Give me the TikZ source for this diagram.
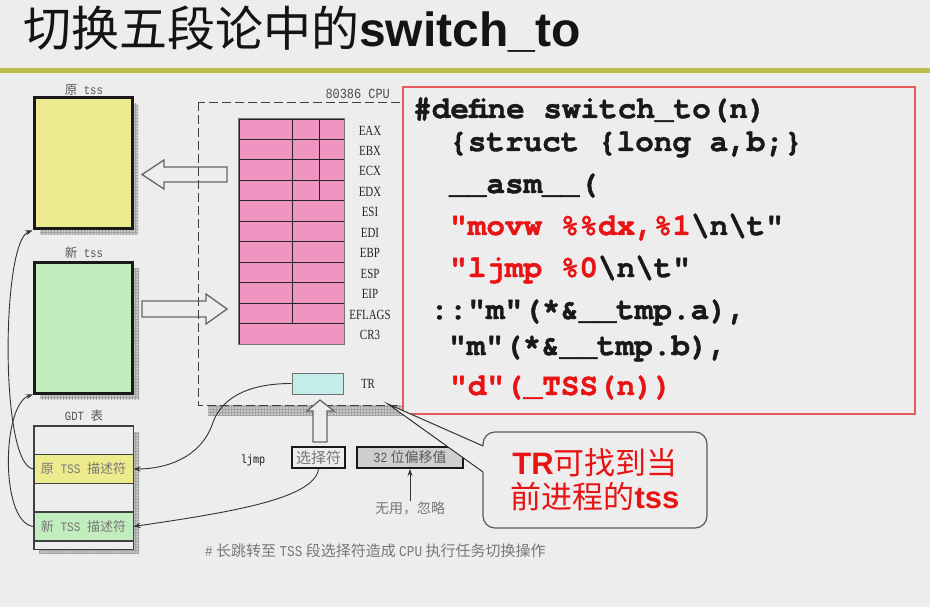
\documentclass[tikz,border=0pt]{standalone}
\usepackage{fontspec}
\setmainfont{Liberation Sans}
\setmonofont{Liberation Mono}
\newfontfamily\cjk{Noto Sans CJK SC}
\newfontfamily\regfont[FakeStretch=0.78]{Liberation Serif}
\newfontfamily\labmono[FakeStretch=0.85]{Liberation Mono}
\newfontfamily\codefont[FakeBold=1.3]{texgyrecursor-bold.otf}
\usetikzlibrary{arrows.meta,patterns}
\definecolor{bg}{HTML}{EDEDED}
\definecolor{rulecol}{HTML}{BEBE4C}
\definecolor{tssold}{HTML}{EEEB8F}
\definecolor{tssnew}{HTML}{C2EDBF}
\definecolor{regpink}{HTML}{EE96C1}
\definecolor{trcyan}{HTML}{C3EDEB}
\definecolor{offgray}{HTML}{CFCFCF}
\definecolor{codered}{HTML}{E81414}
\definecolor{boxred}{HTML}{E85A5A}
\definecolor{labgray}{HTML}{555555}
\definecolor{softgray}{HTML}{777777}
\newcommand{\fs}[1]{\fontsize{#1}{#1}\selectfont}
\begin{document}
\begin{tikzpicture}[x=1pt,y=-1pt,
  dropshade/.style={fill=black!22, postaction={pattern=grid, pattern color=black!36}},
  tssbox/.style={draw=black!90, line width=3pt, minimum width=98, minimum height=131, inner sep=0},
  gdtrow/.style={draw=black!75, line width=1pt, minimum width=99, minimum height=28.75, inner sep=0,
                 font=\labmono\fs{13}, text=softgray},
  hollow/.style={fill=bg, draw=black!60, line width=1.3pt, line join=miter},
  regrow/.style={minimum width=105, minimum height=20.45, inner sep=0, fill=regpink, draw=black!85, line width=0.8pt},
  reglabel/.style={font=\regfont\fs{14}, text=black!85, inner sep=0},
  lab/.style={font=\labmono\fs{12.5}, text=labgray, inner sep=0},
  link/.style={draw=black!80, line width=0.9pt, -{Stealth[length=7pt,width=5pt]}},
  codeline/.style={font=\codefont\fs{31}, text=black!90, anchor=base west, inner sep=0},
  cpubox/.style={draw=black!75, line width=0.9pt, dash pattern=on 9pt off 4pt}
]
\fill[bg] (0,0) rectangle (930,607);
\useasboundingbox (0,0) rectangle (930,607);

% heading and rule
\node[anchor=base west, inner sep=0, text=black!92] (title) at (23,47)
  {{\cjk\fs{48}切换五段论中的}{\bfseries\fs{48}switch\_to}};
\fill[rulecol] (0,67.8) rectangle (930,73.2);

% drop shadows
\fill[dropshade] (40,104) rectangle (138,235);
\fill[dropshade] (40,268) rectangle (139,399);
\fill[dropshade] (39,432) rectangle (139,553);
\fill[dropshade] (208,112) rectangle (412,415);

% CPU frame body
\fill[bg] (198,102) rectangle (412,405);

% hollow arrows: registers out to old tss, new tss into registers
\draw[hollow] (142,174.5) -- (164,160) -- (164,167) -- (227,167) -- (227,182) -- (164,182) -- (164,189) -- cycle;
\draw[hollow] (227,309) -- (206,294) -- (206,301) -- (142,301) -- (142,317) -- (206,317) -- (206,324) -- cycle;

% CPU frame outline
\draw[cpubox] (198,102) rectangle (412,405);
\node[lab, anchor=east, text=black!70, font=\labmono\fs{14}] (cpuname) at (390,94) {80386 CPU};

% register file
\foreach \r [count=\i from 0] in {EAX,EBX,ECX,EDX,ESI,EDI,EBP,ESP,EIP,EFLAGS,CR3}{
  \node[regrow] (reg\i) at (291.5,{129.225+20.45*\i}) {};
  \node[reglabel] (regname\i) at (370,{130.5+20.45*\i}) {\r};
}
\draw[black!85, line width=0.8pt] (292,119) -- (292,{119+20.45*10});
\draw[black!85, line width=0.8pt] (319,119) -- (319,{119+20.45*4});
\draw[black!55, line width=1.2pt] (reg0.north west) rectangle (reg10.south east);

\node[draw=black!55, line width=1pt, fill=trcyan, minimum width=51, minimum height=21, inner sep=0] (tr) at (317.5,383.5) {};
\node[reglabel] (trname) at (368,384) {TR};

% task state segments
\node[lab] (oldname) at (84,90) {{\cjk 原} tss};
\node[tssbox, fill=tssold] (oldtss) at (83,163.5) {};
\node[lab] (newname) at (84,253) {{\cjk 新} tss};
\node[tssbox, fill=tssnew] (newtss) at (83.5,327.5) {};

% descriptor table
\node[lab] (gdtname) at (84,416) {GDT {\cjk 表}};
\node[gdtrow, fill=bg] (gdt0) at (83.5,440.5) {};
\node[gdtrow, fill=tssold] (gdtold) at (83.5,469) {{\cjk 原} TSS {\cjk 描述符}};
\node[gdtrow, fill=bg] (gdt2) at (83.5,497.5) {};
\node[gdtrow, fill=tssnew] (gdtnew) at (83.5,526.5) {{\cjk 新} TSS {\cjk 描述符}};
\node[gdtrow, fill=bg, minimum height=8] (gdt4) at (83.5,545) {};
\draw[black!75, line width=1.5pt] (gdt0.north west) rectangle (gdt4.south east);

% ljmp operand
\draw[hollow] (320,400) -- (334,411) -- (327,411) -- (327,442) -- (313,442) -- (313,411) -- (307,411) -- cycle;
\node[font=\labmono\fs{12}, text=black!90, inner sep=0] (ljmp) at (253,460) {ljmp};
\node[draw=black!90, line width=2pt, fill=bg, minimum width=53, minimum height=21, inner sep=0,
      font=\cjk\fs{15}, text=softgray] (sel) at (318.5,457.5) {选择符};
\node[draw=black!90, line width=2pt, fill=offgray, minimum width=106, minimum height=21, inner sep=0,
      font=\cjk\fs{14}, text=black!65] (off) at (410,457.5) {{\labmono 32} 位偏移值};
\node[font=\cjk\fs{14}, text=softgray, inner sep=0] (useless) at (410,508) {无用，忽略};
\draw[link] (useless.north) -- (off.south);

% descriptor links
\coordinate (trbend) at (212,425);
\draw[link] (tr.west) .. controls +(-47,0) and +(8,-25) .. (trbend)
            .. controls +(-12,33) and +(32,0) .. (gdtold.east);
\draw[link] (sel.south) .. controls +(-4,30) and +(95,-14) .. (gdtnew.east);
\draw[link] (gdtold.west) .. controls +(-34,-3) and +(-31,11) .. (oldtss.south west);
\draw[link] (gdtnew.west) .. controls +(-34,-4) and +(-31,10) .. (newtss.south west);

\node[font=\cjk\fs{15}, text=softgray, anchor=west, inner sep=0] (caption) at (205,551)
  {{\labmono \#} 长跳转至 {\labmono TSS} 段选择符造成 {\labmono CPU} 执行任务切换操作};

% source of the macro
\node[draw=boxred, line width=1.6pt, fill=bg, minimum width=512, minimum height=327, inner sep=0] (code) at (659,250.5) {};
\node[codeline] (c1) at (413,118) {\#define switch\_to(n)};
\node[codeline] (c2) at (449,151) {\{struct \{long a,b;\}};
\node[codeline] (c3) at (449,193) {\_\_asm\_\_(};
\node[codeline] (c4) at (449,235) {\textcolor{codered}{"movw \%\%dx,\%1}\textbackslash n\textbackslash t"};
\node[codeline] (c5) at (449,277) {\textcolor{codered}{"ljmp \%0}\textbackslash n\textbackslash t"};
\node[codeline] (c6) at (430,319) {::"m"(*\&\_\_tmp.a),};
\node[codeline] (c7) at (448,355) {"m"(*\&\_\_tmp.b),};
\node[codeline, text=codered] (c8) at (449,395) {"d"(\_TSS(n))};

% callout
\coordinate (tip) at (388,404);
\draw[draw=black!65, line width=1.2pt, fill=bg, rounded corners=12pt] (483,432) rectangle (707,528);
\fill[bg] (tip) -- (483,446) -- (485,446) -- (485,472) -- (483,472) -- cycle;
\draw[draw=black!80, line width=1pt, line join=miter] (483,446) -- (tip) -- (483,472);
\node[font=\fs{31}, text=codered, align=center, inner sep=0] (note) at (595,480)
  {{\bfseries TR}{\cjk 可找到当}\\[3pt]{\cjk 前进程的}{\bfseries tss}};
\end{tikzpicture}
\end{document}
